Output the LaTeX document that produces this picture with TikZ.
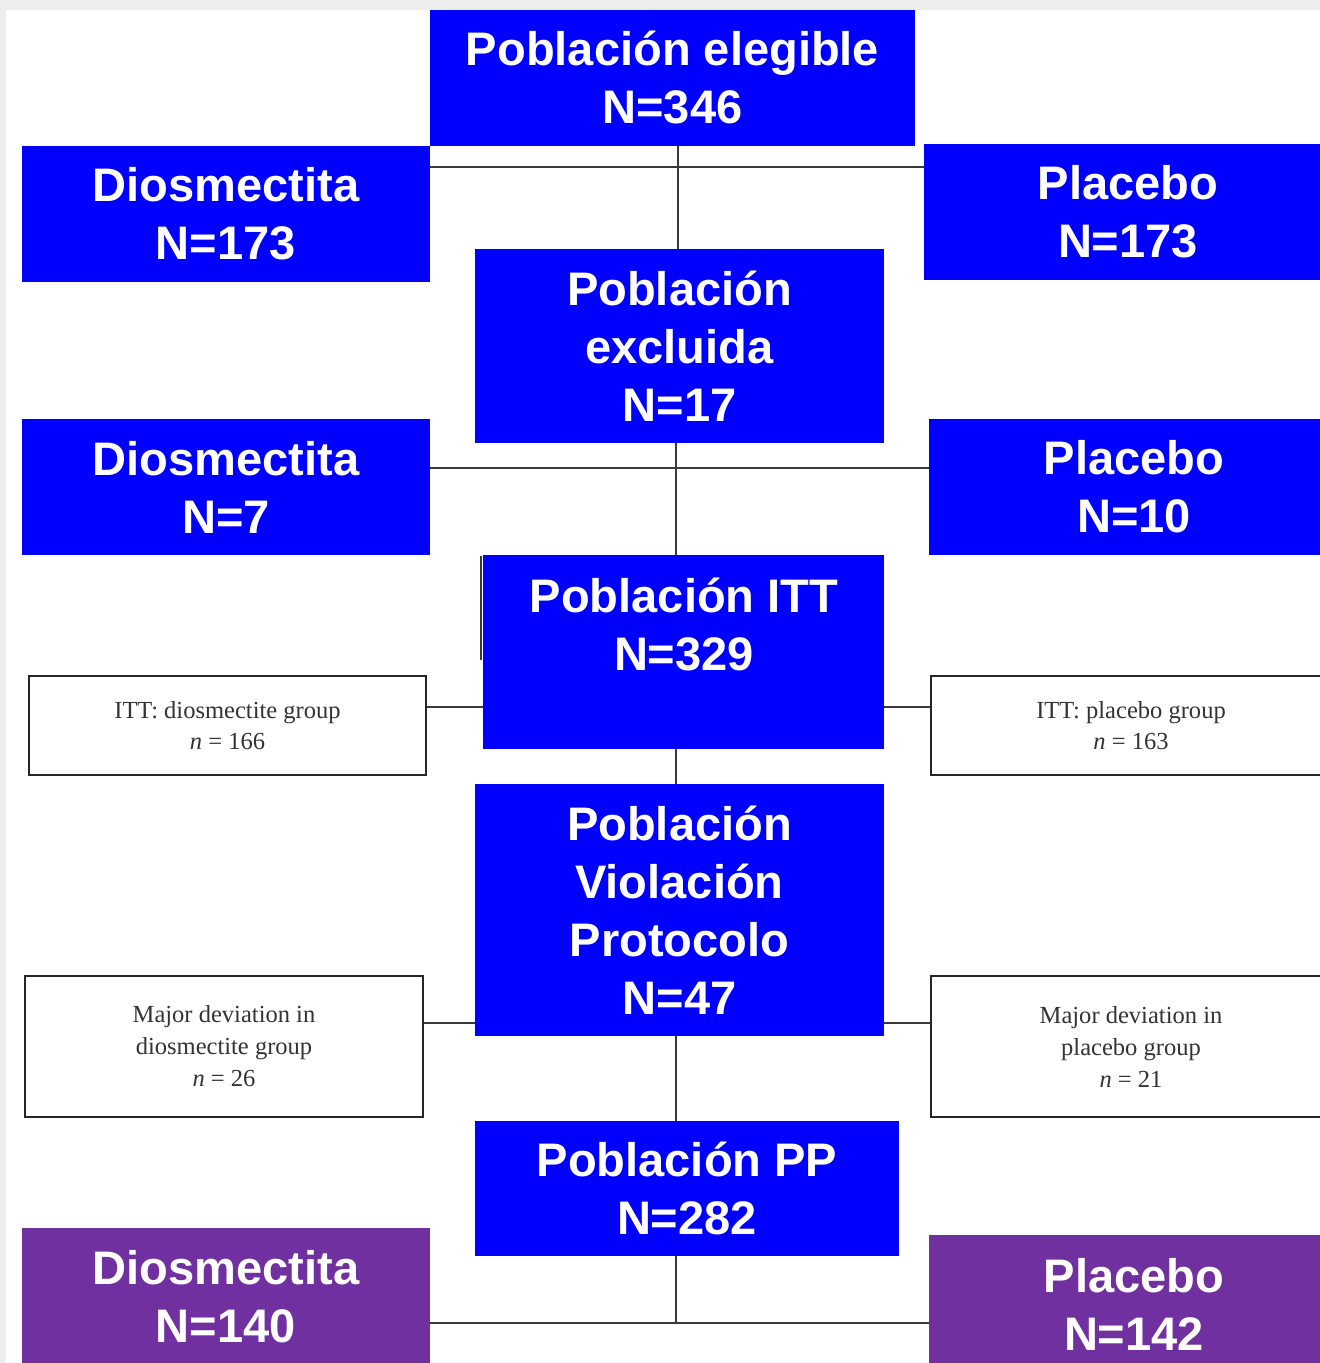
\documentclass[tikz,border=0pt]{standalone}
\usepackage{fontspec}
\setmainfont{Liberation Sans}
\newfontfamily\paperfont{Liberation Serif}
\definecolor{boxblue}{HTML}{0000FF}
\definecolor{boxpurple}{HTML}{7030A0}
\definecolor{wiregray}{HTML}{3A3A3A}
\begin{document}
\begin{tikzpicture}[x=0.75pt, y=-0.75pt,
	bluebox/.style={shape=rectangle, fill=boxblue, text=white, align=center, inner sep=0pt, font=\bfseries\fontsize{35.3}{43.5}\selectfont},
	purplebox/.style={bluebox, fill=boxpurple},
	bigtext/.style={text=white, align=center, inner sep=0pt, font=\bfseries\fontsize{35.3}{43.5}\selectfont},
	paperbox/.style={shape=rectangle, draw=black!85, line width=1.5pt, fill=white, align=center, inner sep=0pt, text=black!80, font=\paperfont\fontsize{18.4}{23}\selectfont},
	wire/.style={draw=wiregray, line width=1.5pt}]
	\useasboundingbox (0,0) rectangle (1320,1363);
	\clip (0,0) rectangle (1320,1363);
	% Slide edge:
	\fill[black!7] (0,0) rectangle (1320,10);
	\fill[black!7] (0,0) rectangle (6,1363);
	% Boxes:
	\node[bluebox, minimum width=363.75pt, minimum height=102pt](elig) at (672.5, 78){Población elegible\\N=346};
	\node[bluebox, minimum width=306pt, minimum height=102pt](D173) at (226, 214){Diosmectita\\N=173};
	\node[bluebox, minimum width=306pt, minimum height=102pt](P173) at (1128, 212){Placebo\\N=173};
	\node[bluebox, minimum width=306.75pt, minimum height=145.5pt](excl) at (679.5, 346){Población\\excluida\\N=17};
	\node[bluebox, minimum width=306pt, minimum height=102pt](D7) at (226, 487){Diosmectita\\N=7};
	\node[bluebox, minimum width=307.5pt, minimum height=102pt](P10) at (1134, 487){Placebo\\N=10};
	\draw[wire, line width=1pt] (481, 556) -- (481, 660);
	\node[bluebox, minimum width=300.75pt, minimum height=145.5pt](ITT) at (683.5, 652){} node[bigtext](ITTtxt) at (684, 624){Población ITT\\N=329};
	\node[paperbox, minimum width=297.75pt, minimum height=74.25pt](ITTd) at (227.5, 725.5){ITT: diosmectite group\\\textit{n} = 166};
	\node[paperbox, minimum width=300pt, minimum height=74.25pt](ITTp) at (1131, 725.5){ITT: placebo group\\\textit{n} = 163};
	\node[bluebox, minimum width=306.75pt, minimum height=189pt](PV) at (679.5, 910){Población\\Violación\\Protocolo\\N=47};
	\node[paperbox, minimum width=298.5pt, minimum height=105.75pt, font=\paperfont\fontsize{18.4}{24}\selectfont](MDd) at (224, 1046.5){Major deviation in\\diosmectite group\\\textit{n} = 26};
	\node[paperbox, minimum width=300pt, minimum height=105.75pt, font=\paperfont\fontsize{18.4}{24}\selectfont](MDp) at (1131, 1046.5){Major deviation in\\placebo group\\\textit{n} = 21};
	\node[bluebox, minimum width=318pt, minimum height=101.25pt](PP) at (687, 1188.5){Población PP\\N=282};
	\node[purplebox, minimum width=306pt, minimum height=102.75pt](Dfin) at (226, 1296.5){Diosmectita\\N=140};
	\node[purplebox, minimum width=307.5pt, minimum height=104.25pt](Pfin) at (1134, 1304.5){Placebo\\N=142};
	% Wires:
	\coordinate (j1) at (678, 167);
	\coordinate (j2) at (676, 468);
	\coordinate (j3) at (676, 707);
	\coordinate (j4) at (676, 1023);
	\coordinate (j5) at (676, 1323);
	\draw[wire] (j1 |- elig.south) -- (j1 |- excl.north);
	\draw[wire] (D173.east |- j1) -- (P173.west |- j1);
	\draw[wire] (j2 |- excl.south) -- (j2 |- ITT.north);
	\draw[wire] (D7.east |- j2) -- (P10.west |- j2);
	\draw[wire] (j3 |- ITT.south) -- (j3 |- PV.north);
	\draw[wire] (ITTd.east |- j3) -- (ITT.west |- j3);
	\draw[wire] (ITT.east |- j3) -- (ITTp.west |- j3);
	\draw[wire] (MDd.east |- j4) -- (PV.west |- j4);
	\draw[wire] (PV.east |- j4) -- (MDp.west |- j4);
	\draw[wire] (j4 |- PV.south) -- (j4 |- PP.north);
	\draw[wire] (j5 |- PP.south) -- (j5);
	\draw[wire] (Dfin.east |- j5) -- (Pfin.west |- j5);
\end{tikzpicture}
\end{document}
